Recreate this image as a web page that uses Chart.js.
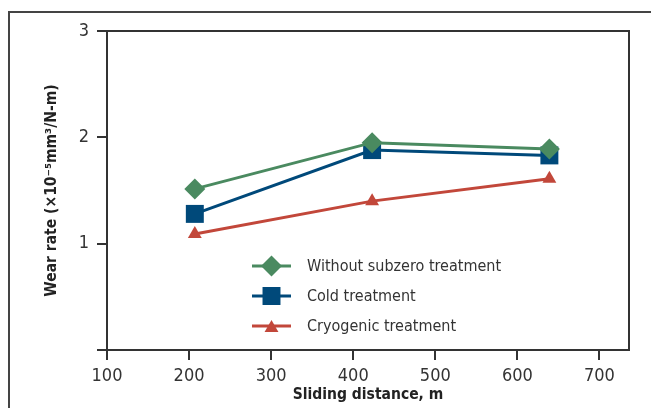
<!DOCTYPE html>
<html>
<head>
<meta charset="utf-8">
<script src="https://cdn.jsdelivr.net/npm/chart.js@4/dist/chart.umd.min.js"></script>
<style>
  html, body { margin: 0; padding: 0; background: #fff; overflow: hidden; }
  #wrap { position: relative; width: 651px; height: 408px; }
  #frame { position: absolute; left: 8px; top: 11px; width: 700px; height: 500px;
           border-left: 2px solid #444; border-top: 2px solid #444; }
  canvas { position: absolute; left: 0; top: 0; }
</style>
</head>
<body>
<div id="wrap">
  <div id="frame"></div>
  <canvas id="grafico" width="651" height="408"></canvas>
</div>
<script>
// distancia de deslizamento (m)
var distancias = [207, 423, 639];
var semSubzero = [1.515, 1.95, 1.89];
var tratFrio = [1.28, 1.88, 1.83];
var criogenico = [1.09, 1.40, 1.61];
var rotulos = ['Without subzero treatment', 'Cold treatment', 'Cryogenic treatment'];
var ticksX = [100, 200, 300, 400, 500, 600, 700];
var ticksY = [0, 1, 2, 3];

var FONTE = "'Liberation Sans Narrow', 'DejaVu Sans Condensed', 'Roboto Condensed', Arial, sans-serif";
var TINTA = '#333333';

function pares(ys) {
	return distancias.map(function(x, i) { return { x: x, y: ys[i] }; });
}

// moldura da area do grafico (topo e direita)
var moldura = {
	id: 'moldura',
	afterDraw: function(chart) {
		var a = chart.chartArea, ctx = chart.ctx;
		ctx.save();
		ctx.strokeStyle = TINTA;
		ctx.lineWidth = 2;
		ctx.beginPath();
		ctx.moveTo(a.left, a.top);
		ctx.lineTo(a.right, a.top);
		ctx.lineTo(a.right, a.bottom);
		ctx.stroke();
		ctx.restore();
	}
};

// legenda dentro da area, desenhada com os estilos dos datasets
var legenda = {
	id: 'legendaInterna',
	afterDatasetsDraw: function(chart) {
		var ctx = chart.ctx;
		var x0 = 252, x1 = 291, tx = 307;
		var linhas = [266, 296, 326];
		ctx.save();
		chart.data.datasets.forEach(function(ds, i) {
			var y = linhas[i];
			ctx.strokeStyle = ds.borderColor;
			ctx.lineWidth = ds.borderWidth;
			ctx.beginPath();
			ctx.moveTo(x0, y);
			ctx.lineTo(x1, y);
			ctx.stroke();
			ctx.fillStyle = ds.pointBackgroundColor;
			ctx.strokeStyle = ds.pointBorderColor;
			Chart.helpers.drawPoint(ctx, {
				pointStyle: ds.pointStyle,
				radius: ds.pointRadius,
				rotation: 0,
				borderWidth: 0
			}, (x0 + x1) / 2, y + (ds.pointStyle === 'triangle' ? 2 : 0));
			ctx.fillStyle = TINTA;
			ctx.font = '16px ' + FONTE;
			ctx.textBaseline = 'middle';
			ctx.textAlign = 'left';
			ctx.fillText(ds.label, tx, y + 1);
		});
		ctx.restore();
	}
};

var estilos = [
	{ cor: '#4a8a60', ponto: 'rectRot', raio: 10.5 },
	{ cor: '#00497a', ponto: 'rect', raio: 12.7 },
	{ cor: '#c2473a', ponto: 'triangle', raio: 8 }
];
var series = [semSubzero, tratFrio, criogenico];

var datasets = series.map(function(s, i) {
	return {
		label: rotulos[i],
		data: pares(s),
		borderColor: estilos[i].cor,
		backgroundColor: estilos[i].cor,
		pointBackgroundColor: estilos[i].cor,
		pointBorderColor: estilos[i].cor,
		pointBorderWidth: 0,
		borderWidth: 3,
		pointStyle: estilos[i].ponto,
		pointRadius: estilos[i].raio,
		pointHoverRadius: estilos[i].raio,
		tension: 0
	};
});

new Chart(document.getElementById('grafico'), {
	type: 'line',
	data: { datasets: datasets },
	options: {
		responsive: false,
		animation: false,
		layout: { padding: { left: 40, top: 31, right: 22, bottom: 0 } },
		plugins: { legend: { display: false }, tooltip: { enabled: false } },
		scales: {
			x: {
				type: 'linear',
				min: 100,
				max: 736,
				afterBuildTicks: function(scale) {
					scale.ticks = ticksX.map(function(v) { return { value: v }; });
				},
				afterFit: function(scale) { scale.height = 58; },
				border: { display: true, color: TINTA, width: 2 },
				grid: { drawOnChartArea: false, drawTicks: true, tickLength: 10, color: TINTA, lineWidth: 2 },
				ticks: { color: TINTA, font: { family: FONTE, size: 18 }, padding: 6, maxRotation: 0 },
				title: {
					display: true,
					text: 'Sliding distance, m',
					color: '#222',
					font: { family: FONTE, size: 15.5, weight: 'bold' },
					padding: { top: 0, bottom: 4 }
				}
			},
			y: {
				min: 0,
				max: 3,
				afterBuildTicks: function(scale) {
					scale.ticks = ticksY.map(function(v) { return { value: v }; });
				},
				afterFit: function(scale) { scale.width = 67; },
				border: { display: true, color: TINTA, width: 2 },
				grid: { drawOnChartArea: false, drawTicks: true, tickLength: 10, color: TINTA, lineWidth: 2 },
				ticks: {
					color: TINTA,
					font: { family: FONTE, size: 18 },
					padding: 8,
					callback: function(v) { return v === 0 ? '' : v; }
				},
				title: {
					display: true,
					text: 'Wear rate (\u00d710\u207b\u2075mm\u00b3/N-m)',
					color: '#222',
					font: { family: FONTE, size: 15.5, weight: 'bold' },
					padding: { top: 3, bottom: 0 }
				}
			}
		}
	},
	plugins: [moldura, legenda]
});
</script>
</body>
</html>
